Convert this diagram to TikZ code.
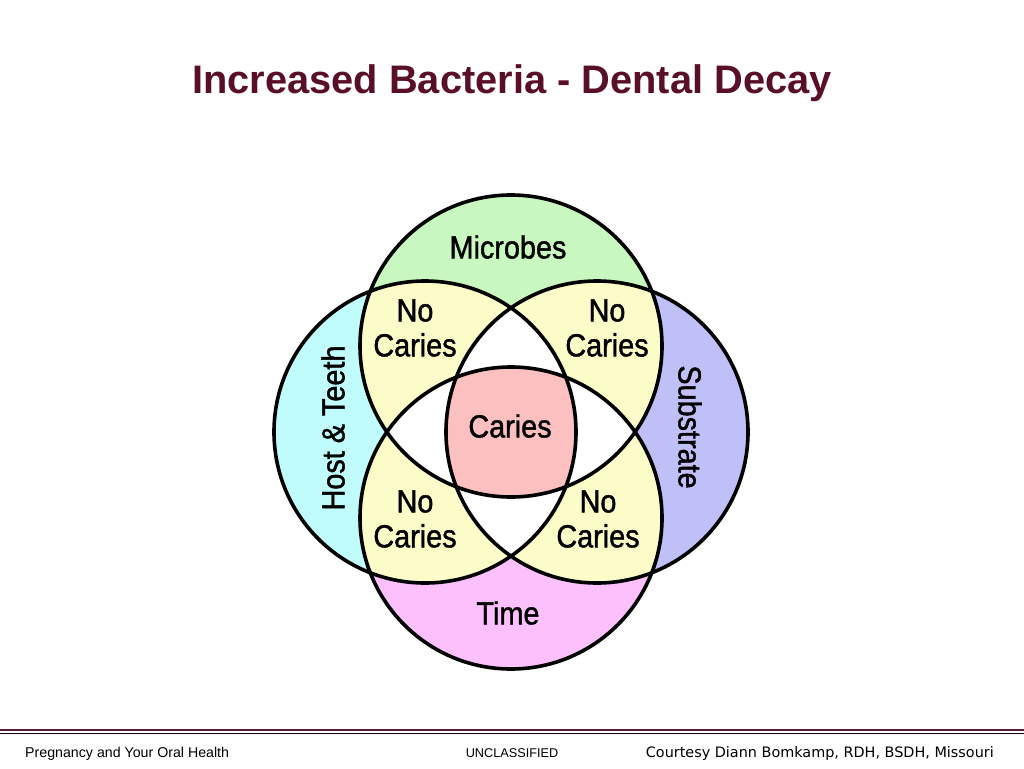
\documentclass[tikz,border=0pt]{standalone}
\usepackage{fontspec}
\setmainfont{Liberation Sans}
\newfontfamily\vennfont[FakeStretch=0.9,FakeBold=1.3]{Liberation Sans}
\newfontfamily\courtfont{DejaVu Sans}
\definecolor{titlecol}{HTML}{5A0F28}
\definecolor{cgreen}{HTML}{C8F8C0}
\definecolor{ccyan}{HTML}{C0FCFC}
\definecolor{clav}{HTML}{C0C0F8}
\definecolor{cpink}{HTML}{FCC0FC}
\definecolor{cyel}{HTML}{FCFCC8}
\definecolor{cred}{HTML}{FCC0C0}
\definecolor{linecol}{HTML}{5A1A3A}
\begin{document}
\begin{tikzpicture}[x=1pt,y=-1pt,
  vennlabel/.style={font=\vennfont\fontsize{32}{35}\selectfont, align=center, inner sep=0pt},
  outline/.style={draw=black, line width=3.6pt},
  foot/.style={inner sep=0pt}]
\useasboundingbox (0,0) rectangle (1024,768);
\fill[white] (0,0) rectangle (1024,768);
\def\rr{151}
\coordinate (T) at (511,346);
\coordinate (B) at (511,518);
\coordinate (L) at (425,432);
\coordinate (R) at (597,432);
% base colours
\fill[cgreen] (T) circle[radius=\rr];
\fill[cpink] (B) circle[radius=\rr];
\fill[ccyan] (L) circle[radius=\rr];
\fill[clav] (R) circle[radius=\rr];
% pairwise adjacent intersections
\begin{scope}
  \clip (T) circle[radius=\rr];
  \fill[cyel] (L) circle[radius=\rr];
  \fill[cyel] (R) circle[radius=\rr];
\end{scope}
\begin{scope}
  \clip (B) circle[radius=\rr];
  \fill[cyel] (L) circle[radius=\rr];
  \fill[cyel] (R) circle[radius=\rr];
\end{scope}
% opposite intersections
\begin{scope}
  \clip (T) circle[radius=\rr];
  \fill[white] (B) circle[radius=\rr];
\end{scope}
\begin{scope}
  \clip (L) circle[radius=\rr];
  \fill[white] (R) circle[radius=\rr];
\end{scope}
% all four
\begin{scope}
  \clip (T) circle[radius=\rr];
  \clip (B) circle[radius=\rr];
  \clip (L) circle[radius=\rr];
  \fill[cred] (R) circle[radius=\rr];
\end{scope}
% outlines
\draw[outline] (T) circle[radius=\rr];
\draw[outline] (B) circle[radius=\rr];
\draw[outline] (L) circle[radius=\rr];
\draw[outline] (R) circle[radius=\rr];
% labels
\node[vennlabel] (microbes) at (508,247) {Microbes};
\node[vennlabel] (tl) at (415,328) {No\\Caries};
\node[vennlabel] (tr) at (607,328) {No\\Caries};
\node[vennlabel] (caries) at (510,426) {Caries};
\node[vennlabel] (bl) at (415,519) {No\\Caries};
\node[vennlabel] (br) at (598,519) {No\\Caries};
\node[vennlabel] (time) at (508,613) {Time};
\node[vennlabel, rotate=90] (host) at (333,428) {Host \& Teeth};
\node[vennlabel, rotate=-90] (subst) at (690,427) {Substrate};
% title
\node[font=\bfseries\fontsize{39.8}{44}\selectfont, text=titlecol, anchor=base, inner sep=0pt] (title) at (512,93) {Increased Bacteria - Dental Decay};
% footer lines
\coordinate (l1a) at (0,730); \coordinate (l1b) at (1024,730);
\coordinate (l2a) at (0,733.5); \coordinate (l2b) at (1024,733.5);
\draw[linecol, line width=2.4pt] (l1a) -- (l1b);
\draw[black!85!linecol, line width=1.8pt] (l2a) -- (l2b);
% footer text
\node[foot, font=\fontsize{14.2}{16}\selectfont, anchor=base west] (f1) at (25,757) {Pregnancy and Your Oral Health};
\node[foot, font=\fontsize{12.7}{15}\selectfont, anchor=base] (f2) at (512,757) {UNCLASSIFIED};
\node[foot, font=\courtfont\fontsize{14.4}{16}\selectfont, anchor=base east] (f3) at (994,757) {Courtesy Diann Bomkamp, RDH, BSDH, Missouri};
\end{tikzpicture}
\end{document}
